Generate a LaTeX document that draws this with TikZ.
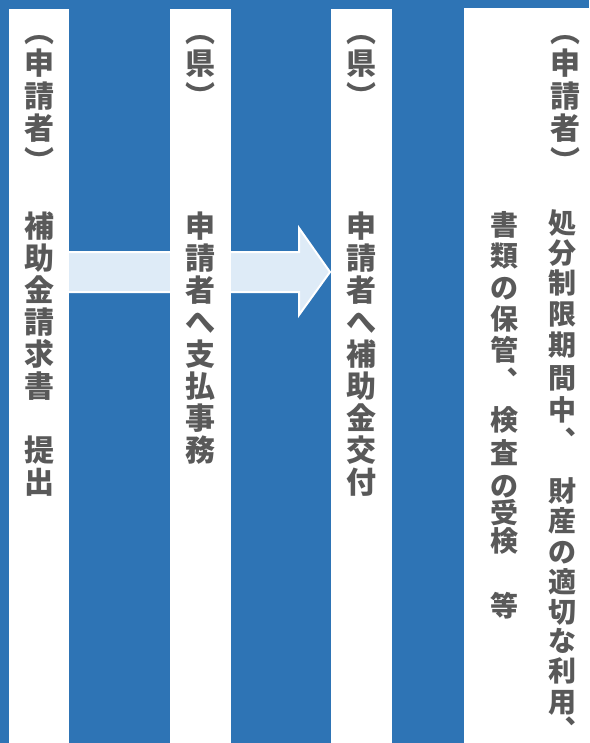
\documentclass[tikz,border=0pt]{standalone}
\usepackage{fontspec}
\newfontfamily\jp{Noto Sans CJK JP}
\definecolor{bgblue}{HTML}{2E74B5}
\definecolor{arrowfill}{HTML}{DEEBF7}
\definecolor{tgray}{HTML}{595959}
\tikzset{
  strip/.style={fill=white},
  bigarrow/.style={fill=arrowfill, draw=white, line width=2pt, line join=miter},
  vch/.style={font=\jp\bfseries\fontsize{30}{32}\selectfont, text=tgray, anchor=base, inner sep=0pt},
  vsm/.style={font=\jp\bfseries\fontsize{28}{30}\selectfont, text=tgray, anchor=base, inner sep=0pt}
}
% uniform vertical column: name, x, first baseline, pitch, style, chars
\newcommand\vcol[6]{\foreach \c [count=\i from 0] in {#6} {\node[#5] (#1-\i) at (#2,{#3+\i*#4}) {\c};}}
% vertical column with explicit offsets: name, x, first baseline, scale, style, char/offset
\newcommand\vidx[6]{\foreach \c/\k [count=\i from 0] in {#6} {\node[#5] (#1-\i) at (#2,{#3+\k*#4}) {\c};}}
\begin{document}
\begin{tikzpicture}[x=1pt,y=-1pt]
\useasboundingbox (0,0) rectangle (589,743);
\fill[bgblue] (0,0) rectangle (589,743);
% arrow (drawn under the strips)
\draw[bigarrow] (40,252) -- (299,252) -- (299,228) -- (330,272) -- (299,315) -- (299,292) -- (40,292) -- cycle;
% white strips
\fill[strip] (9,9) rectangle (69,743);
\fill[strip] (170,9) rectangle (231,743);
\fill[strip] (331,9) rectangle (392,743);
\fill[strip] (464,8) rectangle (589,743);
% headers
\vcol{ha}{39}{42.5}{32.5}{vch}{︵,申,請,者,︶}
\vcol{hb}{200.5}{42.5}{32.5}{vch}{︵,県,︶}
\vcol{hc}{361.5}{42.5}{32.5}{vch}{︵,県,︶}
\vcol{hd}{565}{42.5}{32.5}{vch}{︵,申,請,者,︶}
% bodies
\vcol{ba}{39}{237}{32}{vch}{補,助,金,請,求,書,　,提,出}
\vcol{bb}{200.5}{237}{32}{vch}{申,請,者,へ,支,払,事,務}
\vcol{bc}{361.5}{237}{32}{vch}{申,請,者,へ,補,助,金,交,付}
\vidx{bd}{562}{233.5}{1}{vsm}{処/0,分/30,制/60,限/91,期/122,間/155,中/187,︑/218,財/268,産/298,の/329,適/359,切/389,な/418,利/448,用/479,︑/507}
\vidx{be}{504}{235.5}{1}{vsm}{書/0,類/31,の/62.5,保/94,管/125,︑/156,検/195,査/228,の/261,受/288,検/316,等/381}
\end{tikzpicture}
\end{document}
